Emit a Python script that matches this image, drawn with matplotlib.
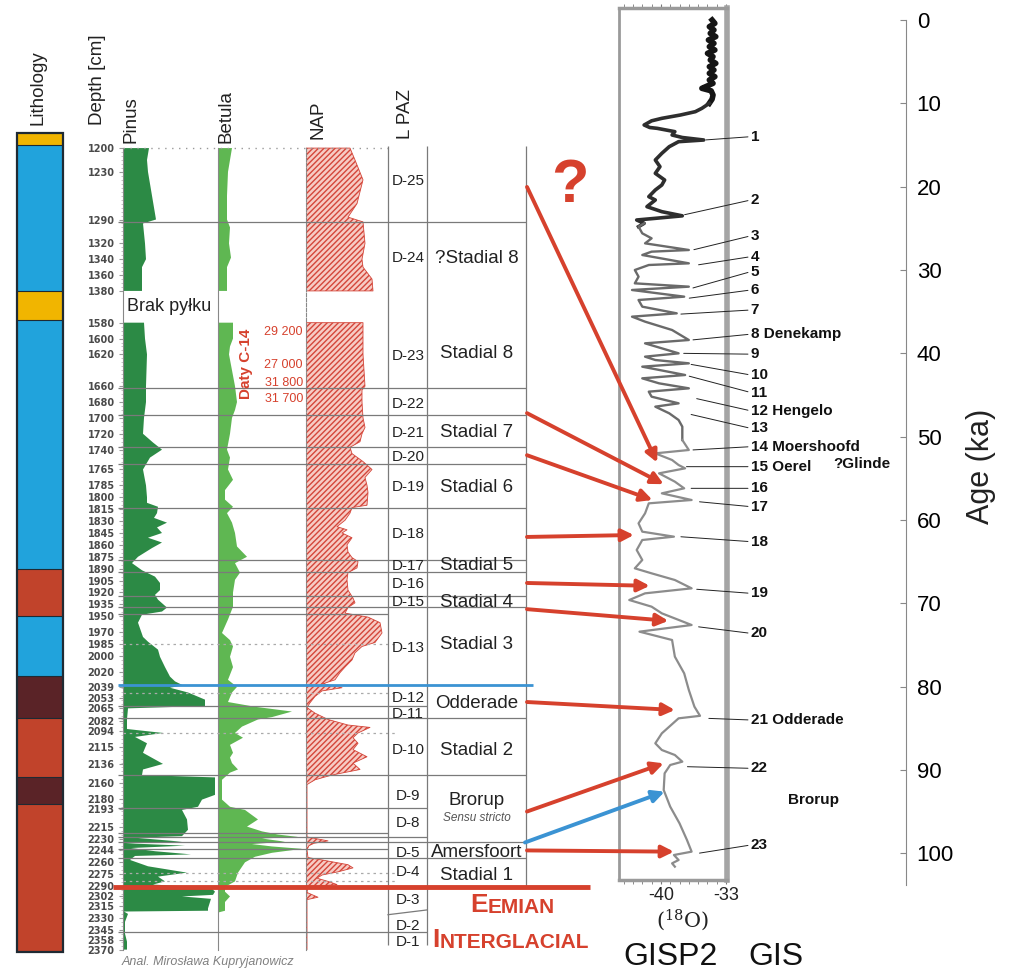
import numpy as np
import matplotlib
matplotlib.use("Agg")
import matplotlib.pyplot as plt
from matplotlib.patches import ConnectionPatch
from matplotlib.ticker import FixedLocator

W, H = 1024, 980
plt.rcParams['font.family'] = ['Liberation Sans', 'DejaVu Sans']
plt.rcParams['hatch.linewidth'] = 1.0

# ---------------- data ----------------
# lithology layers (depth, cm)
LITH_TOP = [1181, 1196, 1380, 1563, 1890, 1950, 2025, 2078, 2152, 2187]
LITH_BOT = [1196, 1380, 1563, 1890, 1950, 2025, 2078, 2152, 2187, 2373]
LITH_CLASS = ['Y', 'B', 'Y', 'B', 'R', 'B', 'D', 'R', 'D', 'R']

DEPTH_TICKS = [1200, 1230, 1290, 1320, 1340, 1360, 1380, 1580, 1600, 1620, 1660, 1680,
               1700, 1720, 1740, 1765, 1785, 1800, 1815, 1830, 1845, 1860, 1875, 1890,
               1905, 1920, 1935, 1950, 1970, 1985, 2000, 2020, 2039, 2053, 2065, 2082,
               2094, 2115, 2136, 2160, 2180, 2193, 2215, 2230, 2244, 2260, 2275, 2290,
               2302, 2315, 2330, 2345, 2358, 2370]

PINUS_DEPTH = [1200, 1215, 1230, 1290, 1295, 1320, 1340, 1350, 1380, 1480,
               1580, 1600, 1620, 1660, 1680, 1700, 1720, 1731, 1740, 1750, 1765, 1785,
               1800, 1807, 1812, 1820, 1826, 1832, 1838, 1845, 1851, 1857, 1864, 1875,
               1883, 1892, 1900, 1908, 1917, 1923, 1929, 1939, 1944, 1948, 1958, 1976,
               1982, 1992, 2001, 2014, 2026, 2032, 2037, 2040, 2046, 2055, 2063, 2066,
               2080, 2092, 2097, 2102, 2110, 2122, 2136, 2143, 2150, 2153, 2175, 2181,
               2190, 2194, 2206, 2219, 2227, 2229, 2234, 2236, 2239, 2242, 2246, 2250,
               2252, 2257, 2265, 2273, 2278, 2284, 2288, 2292, 2297, 2301, 2303, 2306,
               2318, 2321, 2322, 2325, 2335, 2350, 2360, 2370]
PINUS = [26, 24, 25, 33, 20, 22, 23, 19, 19, np.nan,
         21, 22, 24, 23, 23, 21, 20, 30, 39, 27, 20, 23,
         24, 24, 35, 34, 31, 44, 34, 39, 25, 39, 29, 15,
         9, 19, 32, 37, 37, 32, 35, 44, 39, 19, 15, 20,
         25, 35, 37, 42, 47, 52, 60, 47, 65, 82, 82, 5,
         4, 4, 40, 12, 24, 20, 40, 20, 19, 92, 92, 79,
         75, 59, 64, 65, 59, 12, 59, 3, 62, 8, 32, 68,
         12, 7, 25, 64, 35, 42, 30, 88, 92, 90, 59, 88,
         85, 85, 1, 5, 2, 2, 4, 4]

BETULA_DEPTH = [1200, 1215, 1230, 1260, 1290, 1300, 1320, 1338, 1350, 1380, 1480,
                1580, 1600, 1610, 1620, 1640, 1660, 1680, 1690, 1700, 1720, 1740, 1750,
                1765, 1778, 1791, 1803, 1812, 1820, 1832, 1845, 1862, 1875, 1883, 1895,
                1904, 1920, 1938, 1954, 1971, 1980, 1988, 2001, 2014, 2030, 2039, 2046,
                2058, 2064, 2070, 2077, 2080, 2089, 2097, 2103, 2112, 2122, 2128, 2135,
                2143, 2147, 2156, 2181, 2190, 2194, 2206, 2215, 2221, 2225, 2228, 2230,
                2234, 2237, 2240, 2243, 2248, 2253, 2260, 2273, 2284, 2291, 2297, 2303,
                2310, 2321, 2323, 2370]
BETULA = [14, 12, 10, 9, 9, 12, 11, 13, 9, 9, np.nan,
          15, 15, 12, 11, 14, 17, 19, 17, 14, 12, 9, 12,
          10, 15, 7, 7, 15, 9, 14, 17, 19, 29, 17, 22,
          17, 15, 15, 10, 4, 12, 15, 12, 15, 10, 19, 14,
          10, 37, 74, 54, 40, 24, 17, 25, 12, 15, 12, 14,
          20, 12, 4, 4, 12, 27, 40, 29, 44, 60, 80, 44,
          67, 34, 54, 84, 54, 37, 27, 20, 17, 7, 7, 12,
          7, 7, 1, 1]

NAP_DEPTH = [1200, 1215, 1240, 1270, 1287, 1293, 1320, 1340, 1350, 1365, 1380, 1480,
             1580, 1600, 1620, 1660, 1665, 1680, 1700, 1712, 1720, 1730, 1737, 1745,
             1755, 1765, 1775, 1785, 1794, 1810, 1813, 1820, 1829, 1837, 1841, 1845,
             1851, 1860, 1869, 1876, 1881, 1889, 1895, 1904, 1917, 1927, 1933, 1939,
             1946, 1951, 1958, 1971, 1983, 1988, 1996, 2005, 2014, 2021, 2030, 2035,
             2040, 2044, 2051, 2059, 2065, 2072, 2080, 2087, 2090, 2097, 2103, 2110,
             2118, 2127, 2135, 2143, 2150, 2156, 2162, 2228, 2233, 2236, 2239, 2244,
             2254, 2257, 2263, 2267, 2272, 2276, 2280, 2284, 2288, 2291, 2298, 2304,
             2307, 2370]
NAP = [44, 49, 57, 51, 42, 57, 59, 56, 57, 66, 67, np.nan,
       57, 57, 57, 59, 56, 56, 57, 59, 56, 54, 44, 46,
       57, 66, 59, 61, 62, 61, 46, 44, 39, 31, 41, 36,
       46, 41, 42, 46, 52, 51, 42, 41, 42, 47, 49, 42,
       39, 62, 74, 76, 69, 56, 49, 46, 39, 34, 29, 17,
       36, 16, 9, 4, 1, 9, 22, 42, 64, 52, 47, 52,
       47, 61, 47, 54, 26, 9, 1, 1, 22, 8, 3, 1,
       2, 16, 42, 47, 32, 16, 11, 22, 31, 2, 1, 12,
       1, 1]

# zone boundaries (depth, cm)
BOUNDS_FULL = [1293, 1662, 1696, 1737, 1758, 1813, 1879, 1894, 1924, 1938, 2078, 2150,
               2234, 2254]
BOUNDS_LPAZ = [2063, 2191, 2228, 2348]
BOUNDS_POLLEN = [1947, 2223, 2243]
BOUNDS_DOTTED = [1985, 2047, 2097, 2273, 2284]
BOUND_BLUE = 2036
BOUND_EEMIAN = 2291

LPAZ_LABELS = ['D-25', 'D-24', 'D-23', 'D-22', 'D-21', 'D-20', 'D-19', 'D-18', 'D-17',
               'D-16', 'D-15', 'D-13', 'D-12', 'D-11', 'D-10', 'D-9', 'D-8', 'D-5',
               'D-4', 'D-3', 'D-2', 'D-1']
LPAZ_DEPTH = [1242, 1339, 1622, 1682, 1719, 1749, 1787, 1846, 1886, 1909, 1932, 1990,
              2053, 2073, 2118, 2176, 2211, 2248, 2272, 2308, 2340, 2361]

STADIAL_LABELS = ['?Stadial 8', 'Stadial 8', 'Stadial 7', 'Stadial 6', 'Stadial 5',
                  'Stadial 4', 'Stadial 3', 'Odderade', 'Stadial 2', 'Brorup',
                  'Amersfoort', 'Stadial 1']
STADIAL_DEPTH = [1339, 1619, 1719, 1788, 1886, 1932, 1986, 2060, 2119, 2182, 2248, 2276]

C14_DATES = ['29 200', '27 000', '31 800', '31 700']
C14_DEPTH = [1592, 1633, 1656, 1676]

# GISP2 d18O record
AGE = [0.0, 0.4, 0.8, 1.2, 1.6, 2.0, 2.4, 2.8, 3.2, 3.6, 4.0, 4.4, 4.8, 5.2, 5.6, 6.0,
       6.4, 6.8, 7.2, 7.6, 8.0, 8.2, 8.5, 9.0, 9.5, 10.0, 10.6, 11.0, 11.4, 11.8, 12.1,
       12.6, 12.9, 13.0, 13.4, 13.8, 14.1, 14.4, 14.6, 15.2, 16.0, 16.8, 17.6, 18.4,
       19.2, 19.8, 20.4, 21.2, 21.6, 22.4, 23.0, 23.5, 23.8, 24.0, 24.4, 24.8, 25.6,
       26.2, 26.8, 27.6, 27.8, 28.2, 29.2, 29.4, 30.0, 30.8, 31.6, 32.0, 32.4, 33.2,
       33.6, 34.4, 35.2, 35.6, 36.2, 37.2, 38.4, 38.8, 40.0, 40.4, 40.8, 41.2, 41.6,
       42.6, 43.0, 43.6, 44.2, 44.6, 45.2, 46.0, 46.4, 47.2, 48.0, 48.8, 50.4, 51.6,
       52.0, 52.8, 53.4, 53.8, 54.4, 55.4, 56.2, 56.8, 57.6, 58.0, 59.2, 60.4, 61.4,
       62.0, 62.4, 63.6, 64.8, 65.8, 66.4, 67.2, 68.2, 68.8, 69.6, 70.4, 71.2, 72.6,
       73.4, 74.4, 76.4, 78.4, 80.4, 82.4, 83.5, 83.8, 84.8, 85.6, 86.8, 87.6, 88.2,
       89.0, 89.4, 90.4, 92.4, 94.4, 96.4, 98.4, 99.8, 100.2, 100.8, 101.2, 101.6]
D18O = [-34.5, -34.2, -34.8, -34.3, -34.7, -34.1, -34.9, -34.3, -34.8, -34.2, -35.0,
        -34.4, -34.7, -34.1, -34.8, -34.3, -34.8, -34.2, -34.8, -34.4, -35.2, -35.6,
        -34.6, -34.4, -34.5, -34.8, -35.6, -36.3, -37.9, -39.9, -41.0, -41.8, -41.2,
        -40.4, -38.5, -38.8, -37.7, -35.4, -38.1, -39.1, -39.9, -40.6, -40.1, -40.6,
        -39.6, -39.9, -40.6, -41.3, -40.6, -41.5, -39.9, -37.7, -40.6, -42.6, -41.8,
        -42.4, -42.0, -41.0, -41.7, -37.0, -41.0, -42.0, -37.0, -41.3, -42.8, -42.4,
        -42.8, -37.0, -43.1, -37.5, -42.4, -42.0, -38.3, -43.1, -41.7, -38.8, -37.0,
        -41.7, -38.1, -41.7, -40.6, -37.0, -42.0, -37.4, -42.0, -40.2, -37.0, -41.3,
        -41.0, -38.1, -40.6, -39.1, -38.1, -37.7, -37.7, -37.0, -40.6, -38.8, -38.1,
        -37.4, -40.2, -38.5, -37.5, -39.9, -36.7, -41.3, -41.7, -42.4, -42.0, -38.6,
        -42.0, -42.6, -42.0, -42.8, -41.0, -38.5, -36.7, -41.7, -43.4, -41.0, -39.9,
        -36.7, -42.3, -38.8, -38.5, -37.5, -37.0, -36.4, -35.8, -38.1, -39.1, -39.9,
        -40.6, -39.9, -38.5, -37.7, -39.0, -39.6, -39.7, -39.0, -38.0, -37.2, -36.7,
        -38.6, -38.1, -38.8, -38.5]

EVENT_LABELS = ['1', '2', '3', '4', '5', '6', '7', '8 Denekamp', '9', '10', '11',
                '12 Hengelo', '13', '14 Moershoofd', '15 Oerel', '16', '17', '18', '19',
                '20', '21 Odderade', '22', '23']
EVENT_D18O = [-35.3, -37.6, -36.6, -36.1, -36.7, -37.1, -38.0, -36.7, -37.7, -36.9, -37.1,
              -36.3, -36.9, -36.7, -37.4, -36.9, -36.0, -38.0, -36.3, -36.1, -35.0, -37.3,
              -36.0]
EVENT_AGE = [14.4, 23.4, 27.6, 29.4, 32.2, 33.4, 35.3, 38.4, 40.0, 41.3, 42.7, 45.4, 47.3,
             51.6, 53.6, 56.2, 57.8, 62.0, 68.3, 72.8, 83.8, 89.6, 100.0]
EVENT_LABEL_AGE = [14.0, 21.6, 25.9, 28.4, 30.2, 32.4, 34.8, 37.7, 40.1, 42.6, 44.7, 46.9,
                   49.0, 51.2, 53.6, 56.2, 58.4, 62.6, 68.8, 73.6, 84.0, 89.8, 99.0]

# correlations: pollen zone depth -> GISP2 (d18O, age)
LINK_DEPTH = [1249, 1694, 1747, 1850, 1908, 1941, 2058, 2196, 2245]
LINK_D18O = [-40.4, -39.7, -40.9, -42.9, -41.2, -39.2, -38.5, -39.7, -38.6]
LINK_AGE = [53.1, 55.7, 57.6, 61.8, 67.9, 72.1, 82.8, 89.2, 99.8]
LINK_BLUE = (2235, -39.6, 92.6)

# ---------------- styles ----------------
RED = '#d6412d'
BLUE = '#3b93d3'
LITH_COLORS = {'Y': '#f1b500', 'B': '#21a3dc', 'R': '#c1432b', 'D': '#5a2327'}
PINUS_COLOR = '#2c8a45'
BETULA_COLOR = '#5fb752'
LINE_GRAY = '#7a7a7a'


def fwd(d):
    d = np.asarray(d, float)
    return np.where(d <= 1380, d, np.where(d < 1580, 1380 + (d - 1380) * 0.2, d - 160))


def inv(c):
    c = np.asarray(c, float)
    return np.where(c <= 1380, c, np.where(c < 1420, 1380 + (c - 1380) * 5, c + 160))


def rect(x0, y0, x1, y1):
    return [x0 / W, 1 - y1 / H, (x1 - x0) / W, (y1 - y0) / H]


fig = plt.figure(figsize=(W / 100, H / 100), dpi=100)

# pixel overlay for free text
ax_px = fig.add_axes([0, 0, 1, 1])
ax_px.set_xlim(0, W)
ax_px.set_ylim(H, 0)
ax_px.axis('off')


def depth_axes(x0, x1, z=1):
    ax = fig.add_axes(rect(x0, 133, x1, 952))
    ax.set_yscale('function', functions=(fwd, inv))
    ax.set_ylim(2373, 1181)
    ax.patch.set_alpha(0)
    ax.set_zorder(z)
    for s in ['top', 'right', 'bottom']:
        ax.spines[s].set_visible(False)
    ax.set_xticks([])
    return ax


# --- pollen curves ---
ax_pin = depth_axes(123, 223)
ax_pin.set_xlim(0, 100)
ax_pin.fill_betweenx(PINUS_DEPTH, 0, PINUS, color=PINUS_COLOR, lw=0)
ax_pin.spines['left'].set_bounds(1200, 2370)
ax_pin.spines['left'].set_color('#888888')
ax_pin.spines['left'].set_linewidth(0.8)
ax_pin.set_yticks(DEPTH_TICKS, [str(d) for d in DEPTH_TICKS], fontsize=7,
                  fontweight='bold', family='DejaVu Sans', color='#4a4a4a')
minor = [d for d in range(1200, 2371, 5) if d <= 1380 or d >= 1580]
ax_pin.yaxis.set_minor_locator(FixedLocator(minor))
ax_pin.tick_params(axis='y', which='major', length=3, width=0.8, color='#999999', pad=3)
ax_pin.tick_params(axis='y', which='minor', length=1.5, width=0.6, color='#bbbbbb')

ax_bet = depth_axes(218, 318)
ax_bet.set_xlim(0, 100)
ax_bet.fill_betweenx(BETULA_DEPTH, 0, BETULA, color=BETULA_COLOR, lw=0)
ax_bet.spines['left'].set_bounds(1200, 2370)
ax_bet.spines['left'].set_color('#888888')
ax_bet.spines['left'].set_linewidth(0.8)
ax_bet.set_yticks([])

ax_nap = depth_axes(306, 406)
ax_nap.set_xlim(0, 100)
ax_nap.fill_betweenx(NAP_DEPTH, 0, NAP, facecolor='#f7cbc4', edgecolor='#d4463a',
                     hatch='//////', lw=0.6)
ax_nap.spines['left'].set_bounds(1200, 2370)
ax_nap.spines['left'].set_color('#888888')
ax_nap.spines['left'].set_linewidth(0.8)
ax_nap.spines['left'].set_linestyle((0, (3, 1.5)))
ax_nap.set_yticks([])

# --- main frame: lithology, zones, lines ---
ax_main = depth_axes(0, W, z=3)
ax_main.set_xlim(0, W)
ax_main.axis('off')

for top, bot, cls in zip(LITH_TOP, LITH_BOT, LITH_CLASS):
    ax_main.bar(40, bot - top, bottom=top, width=46, color=LITH_COLORS[cls], lw=0)
ax_main.bar(40, LITH_BOT[-1] - LITH_TOP[0], bottom=LITH_TOP[0], width=46, fill=False,
            edgecolor='#1f2a33', lw=1.6, clip_on=False)
for top in LITH_TOP[1:]:
    ax_main.hlines(top, 17, 63, color='#1f2a33', lw=0.8)

ax_main.hlines(1200, 123, 388, color='#999999', lw=1, linestyles=(0, (1, 4)))
ax_main.hlines(BOUNDS_FULL, 118, 526, color=LINE_GRAY, lw=0.9)
ax_main.hlines(BOUNDS_LPAZ, 118, 427, color=LINE_GRAY, lw=0.9)
ax_main.hlines(BOUNDS_POLLEN, 118, 388, color=LINE_GRAY, lw=0.9)
ax_main.hlines(BOUNDS_DOTTED, 123, 396, color='#aaaaaa', lw=0.9, linestyles=(0, (2, 3)))
ax_main.plot([388, 427], [2326, 2320], color=LINE_GRAY, lw=0.9)
ax_main.vlines([388, 427], 1198, 2364, color=LINE_GRAY, lw=0.9)
ax_main.vlines(526, 1198, BOUND_EEMIAN, color=LINE_GRAY, lw=0.9)
ax_main.hlines(BOUND_BLUE, 118, 533, color=BLUE, lw=2)
ax_main.hlines(BOUND_EEMIAN, 113, 590, color=RED, lw=3.5)

for lab, d in zip(LPAZ_LABELS, LPAZ_DEPTH):
    ax_main.text(408, d, lab, ha='center', va='center', fontsize=11, color='#222222')
for lab, d in zip(STADIAL_LABELS, STADIAL_DEPTH):
    ax_main.text(477, d, lab, ha='center', va='center', fontsize=13.5, color='#222222')
ax_main.text(477, 2204, 'Sensu stricto', ha='center', va='center', fontsize=8.5,
             style='italic', color='#555555')

ax_main.text(127, 1481, 'Brak pyłku', ha='left', va='center', fontsize=13,
             color='#222222')
for lab, d in zip(C14_DATES, C14_DEPTH):
    ax_main.text(303, d, lab, ha='right', va='center', fontsize=9, color=RED)
ax_main.text(246, 1632, 'Daty C-14', rotation=90, ha='center', va='center',
             fontsize=11, fontweight='bold', color=RED)

# --- GISP2 panel ---
ax_g = fig.add_axes(rect(619, 8, 727, 880))
ax_g.set_xlim(-44.5, -32.9)
ax_g.set_ylim(103.2, -1.44)
ax_g.patch.set_alpha(0)
age = np.array(AGE)
d18o = np.array(D18O)
segs = [(0, 10.3, '#151515', 4.0), (10.0, 25.0, '#2e2e2e', 2.6),
        (24.4, 50.5, '#6a6a6a', 1.7), (50.4, 102, '#8c8c8c', 1.6)]
for a0, a1, col, lw in segs:
    m = (age >= a0) & (age <= a1)
    ax_g.plot(d18o[m], age[m], color=col, lw=lw)
for s in ['top', 'bottom']:
    ax_g.spines[s].set_color('#9a9a9a')
    ax_g.spines[s].set_linewidth(2.5)
ax_g.spines['left'].set_color('#9a9a9a')
ax_g.spines['left'].set_linewidth(2)
ax_g.spines['right'].set_color('#a5a5a5')
ax_g.spines['right'].set_linewidth(4)
ax_g.set_yticks([])
ax_g.set_xticks([-40, -33], ['-40', '-33'], fontsize=13, color='#222222')
ax_g.xaxis.set_minor_locator(FixedLocator(np.arange(-44, -32.5, 1.0)))
ax_g.tick_params(axis='x', which='both', top=True, bottom=True, direction='out',
                 length=3, color='#777777', pad=2)

for lab, dx, ev_age, ay in zip(EVENT_LABELS, EVENT_D18O, EVENT_AGE, EVENT_LABEL_AGE):
    ax_g.annotate(lab, xy=(dx, ev_age), xytext=(-30.35, ay), ha='left', va='center',
                  fontsize=11, fontweight='bold', color='#111111',
                  annotation_clip=False,
                  arrowprops=dict(arrowstyle='-', color='#222222', lw=0.7,
                                  shrinkA=0, shrinkB=1, relpos=(0, 0.5)))
ax_g.text(-21.5, 53.3, '?Glinde', ha='left', va='center', fontsize=11,
          fontweight='bold', color='#111111', clip_on=False)
ax_g.text(-26.4, 93.6, 'Brorup', ha='left', va='center', fontsize=11,
          fontweight='bold', color='#111111', clip_on=False)

# --- age axis ---
ax_age = fig.add_axes(rect(906, 20, 907, 885))
ax_age.set_ylim(103.8, 0)
ax_age.patch.set_alpha(0)
for s in ['top', 'right', 'bottom']:
    ax_age.spines[s].set_visible(False)
ax_age.spines['left'].set_color('#888888')
ax_age.set_xticks([])
ax_age.set_yticks(range(0, 101, 10))
ax_age.tick_params(axis='y', left=True, right=False, labelleft=False, labelright=True,
                   length=4, color='#888888', labelsize=16, pad=3)

# --- correlation arrows ---
for d, dx, a in zip(LINK_DEPTH, LINK_D18O, LINK_AGE):
    con = ConnectionPatch(xyA=(527, d), coordsA=ax_main.transData,
                          xyB=(dx, a), coordsB=ax_g.transData,
                          arrowstyle='-|>', mutation_scale=18, lw=2.8, color=RED,
                          shrinkA=0, shrinkB=0, zorder=10)
    fig.add_artist(con)
bd, bx, ba = LINK_BLUE
con = ConnectionPatch(xyA=(525, bd), coordsA=ax_main.transData,
                      xyB=(bx, ba), coordsB=ax_g.transData,
                      arrowstyle='-|>', mutation_scale=18, lw=2.8, color=BLUE,
                      shrinkA=0, shrinkB=0, zorder=10)
fig.add_artist(con)

# --- free text ---
head = dict(rotation=90, ha='center', va='bottom', fontsize=13.5, color='#222222')
ax_px.text(38, 125, 'Lithology', **head)
ax_px.text(97, 125, 'Depth [cm]', **head)
ax_px.text(131, 143, 'Pinus', **head)
ax_px.text(226, 143, 'Betula', **head)
ax_px.text(318, 139, 'NAP', **head)
ax_px.text(406, 139, 'L PAZ', **head)
ax_px.text(122, 962, 'Anal. Mirosława Kupryjanowicz', ha='left', va='center',
           fontsize=9, style='italic', color='#808080')
ax_px.text(570, 186, '?', ha='center', va='center', fontsize=44, fontweight='bold',
           color=RED)

t1 = ax_px.text(470, 912, 'E', ha='left', va='baseline', fontsize=19,
                fontweight='bold', color=RED)
ax_px.annotate('EMIAN', xy=(1, 0), xycoords=t1, ha='left', va='bottom', fontsize=15,
               fontweight='bold', color=RED)
t2 = ax_px.text(432, 947, 'I', ha='left', va='baseline', fontsize=19,
                fontweight='bold', color=RED)
ax_px.annotate('NTERGLACIAL', xy=(1, 0), xycoords=t2, ha='left', va='bottom',
               fontsize=15, fontweight='bold', color=RED)

ax_px.text(683, 920, r'(${}^{18}$O)', ha='center', va='center', fontsize=15,
           family='DejaVu Serif', math_fontfamily='dejavuserif', color='#222222')
ax_px.text(671, 957, 'GISP2', ha='center', va='center', fontsize=23, color='#111111')
ax_px.text(776, 957, 'GIS', ha='center', va='center', fontsize=23, color='#111111')
ax_px.text(981, 466, 'Age (ka)', rotation=90, ha='center', va='center', fontsize=22,
           color='#222222')

fig.savefig('out.png', dpi=100)
